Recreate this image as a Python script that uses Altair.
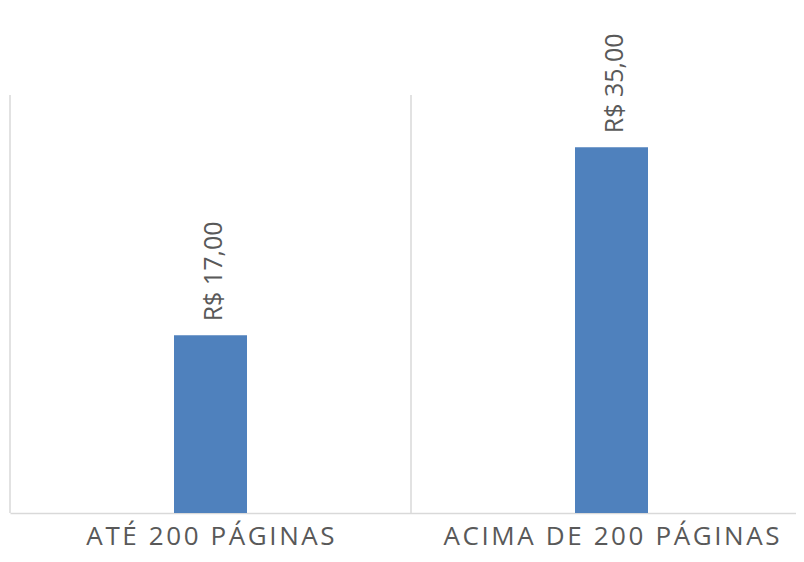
import altair as alt
import pandas as pd

categories = ["ATÉ 200 PÁGINAS", "ACIMA DE 200 PÁGINAS"]
values = [17, 35]
labels = ["R$ 17,00", "R$ 35,00"]

df = pd.DataFrame({"cat": categories, "val": values, "lab": labels,
                   "idx": list(range(len(categories)))})

PLOT_W = 786
BAND = 401
x_scale = alt.Scale(domain=[0, PLOT_W / BAND], nice=False, zero=False, padding=0)
y_scale = alt.Scale(domain=[0, 40], nice=False)

base = alt.Chart(df).transform_calculate(mid="datum.idx + 0.5")

grid = base.mark_rule(color="#D9D9D9", strokeWidth=1.5).encode(
    x=alt.X("idx:Q", scale=x_scale,
            axis=alt.Axis(title=None, labels=False, ticks=False, grid=False,
                          domainColor="#D9D9D9", domainWidth=1.5)),
    y=alt.value(0),
    y2=alt.value(418),
)

bars = base.mark_bar(color="#4F81BD", size=73).encode(
    x=alt.X("mid:Q", scale=x_scale),
    y=alt.Y("val:Q", scale=y_scale, axis=None),
)

text = base.mark_text(
    angle=270, align="left", baseline="middle", dx=14, dy=3,
    font="Open Sans", fontSize=25, color="#595959",
).encode(
    x=alt.X("mid:Q", scale=x_scale),
    y=alt.Y("val:Q", scale=y_scale, axis=None),
    text="lab:N",
)

cat_text = base.transform_calculate(
    spaced="join(split(datum.cat, ''), '\u200a')"
).mark_text(
    align="center", baseline="middle", font="Open Sans", fontSize=26,
    color="#595959",
).encode(x=alt.X("mid:Q", scale=x_scale), y=alt.value(442), text="spaced:N")

chart = alt.layer(grid, bars, text, cat_text).properties(
    width=PLOT_W,
    height=418,
    padding={"left": 2, "top": 87, "right": 0, "bottom": 41},
    autosize=alt.AutoSizeParams(type="none"),
    background="white",
).configure_view(stroke=None, strokeWidth=0).configure_axis(grid=False)

chart.save("out.html", embed_options={"renderer": "svg", "actions": False})
